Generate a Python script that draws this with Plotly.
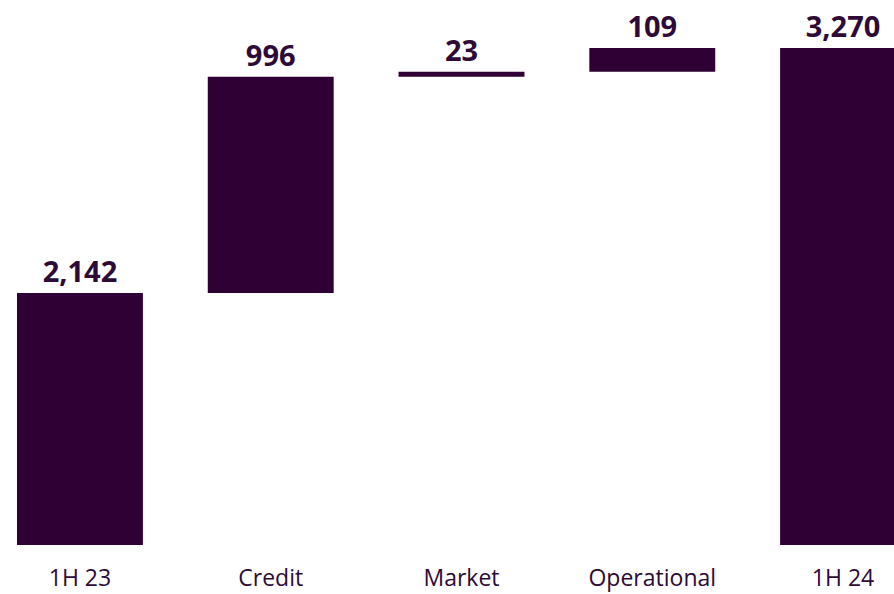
import plotly.graph_objects as go

categories = ["1H 23", "Credit", "Market", "Operational", "1H 24"]
values = [2142, 996, 23, 109, 3270]
measures = ["absolute", "relative", "relative", "relative", "total"]
labels = ["2,142", "996", "23", "109", "3,270"]

bar_color = "#2e0033"
text_color = "#2e0a36"

fig = go.Figure(go.Waterfall(
    x=categories,
    y=values,
    measure=measures,
    text=labels,
    textposition="outside",
    textfont=dict(family="Open Sans", size=29, color=text_color, weight="bold"),
    increasing=dict(marker=dict(color=bar_color)),
    decreasing=dict(marker=dict(color=bar_color)),
    totals=dict(marker=dict(color=bar_color)),
    connector=dict(visible=False),
    width=0.66,
    cliponaxis=False,
))

fig.update_layout(
    width=894, height=594,
    margin=dict(l=0, r=0, t=0, b=49),
    plot_bgcolor="white", paper_bgcolor="white",
    showlegend=False,
    xaxis=dict(
        range=[-0.419, 4.267],
        automargin=False,
        showgrid=False, zeroline=False, showline=False,
        tickfont=dict(family="Open Sans", size=23, color=text_color),
        ticks="outside", ticklen=12, tickcolor="rgba(0,0,0,0)",
    ),
    yaxis=dict(
        range=[982, 3491],
        visible=False,
        automargin=False,
    ),
)

fig.write_html("out.html")
